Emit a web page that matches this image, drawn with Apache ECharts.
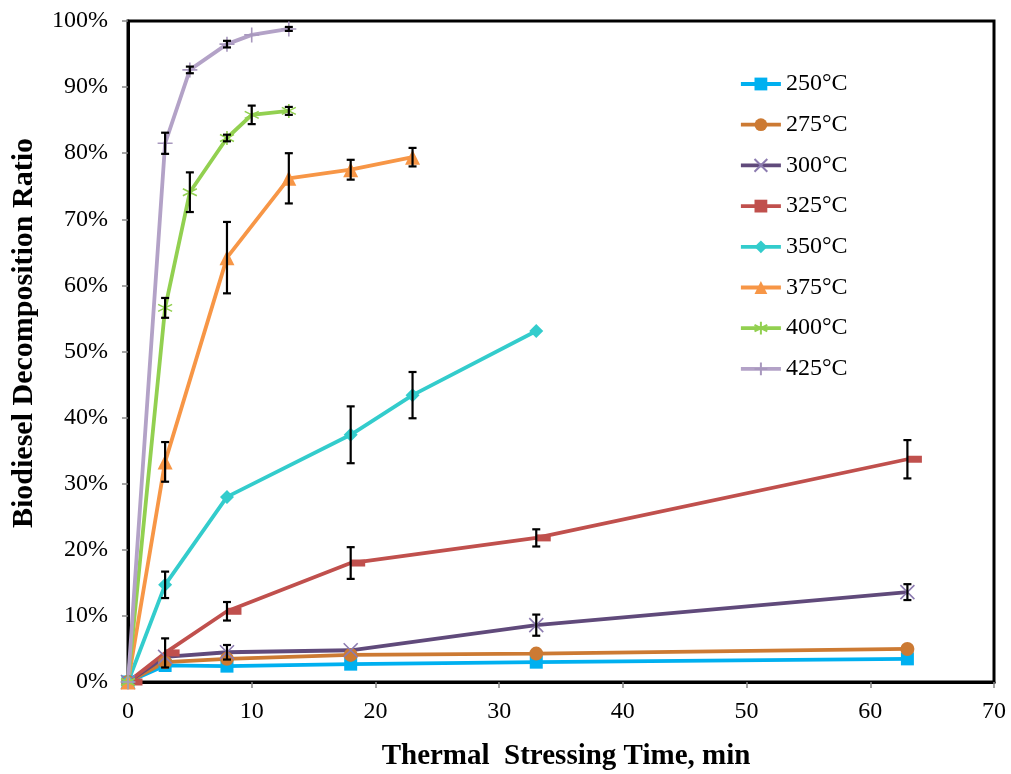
<!DOCTYPE html>
<html>
<head>
<meta charset="utf-8">
<script src="https://cdn.jsdelivr.net/npm/echarts@6/dist/echarts.min.js"></script>
<style>
  html, body { margin: 0; padding: 0; background: #fff; }
  #chart { width: 1011px; height: 774px; }
</style>
</head>
<body>
<div id="chart"></div>
<script>
// Stressing times (min) for each temperature group
const timesLow = [0, 3, 8, 18, 33, 63];     // 250–325 °C
const times350 = [0, 3, 8, 18, 23, 33];
const times375 = [0, 3, 8, 13, 18, 23];
const timesHigh = [0, 3, 5, 8, 10, 13];     // 400–425 °C

// Decomposition ratio (%) per temperature
const v250 = [0, 2.5, 2.4, 2.7, 3.0, 3.5];
const v275 = [0, 3.0, 3.5, 4.1, 4.3, 5.0];
const v300 = [0, 3.8, 4.5, 4.8, 8.6, 13.6];
const v325 = [0, 4.4, 10.7, 18.0, 21.8, 33.7];
const v350 = [0, 14.7, 28.0, 37.4, 43.4, 53.1];
const v375 = [0, 33.3, 64.2, 76.2, 77.5, 79.4];
const v400 = [0, 56.6, 74.1, 82.3, 85.8, 86.4];
const v425 = [0, 81.5, 92.6, 96.5, 97.9, 98.8];

// Standard deviations (± %) per point
const e250 = [0, 0, 0, 0, 0, 0];
const e275 = [0, 0, 0, 0, 0, 0];
const e300 = [0, 0, 1.1, 0, 1.6, 1.2];
const e325 = [0, 2.2, 1.4, 2.4, 1.3, 2.9];
const e350 = [0, 2.0, 0, 4.3, 3.5, 0];
const e375 = [0, 3.0, 5.4, 3.8, 1.5, 1.4];
const e400 = [0, 1.5, 3.0, 0.5, 1.4, 0.6];
const e425 = [0, 1.6, 0.5, 0.5, 0, 0.3];

const seriesNames = ['250°C', '275°C', '300°C', '325°C', '350°C', '375°C', '400°C', '425°C'];
const xTicks = [0, 10, 20, 30, 40, 50, 60, 70];

const FONT = '"Liberation Serif", "Times New Roman", serif';

const groups = [
  { name: seriesNames[0], t: timesLow, v: v250, e: e250, color: '#00B0F0',
    symbol: 'rect', size: 13 },
  { name: seriesNames[1], t: timesLow, v: v275, e: e275, color: '#CC7A33',
    symbol: 'circle', size: 14 },
  { name: seriesNames[2], t: timesLow, v: v300, e: e300, color: '#604A7B',
    symbol: 'path://M0,0L10,10M10,0L0,10', size: 14, stroke: '#8C7BB0' },
  { name: seriesNames[3], t: timesLow, v: v325, e: e325, color: '#C0504D',
    symbol: 'rect', size: [15, 7], offset: [7, 0] },
  { name: seriesNames[4], t: times350, v: v350, e: e350, color: '#33CCCC',
    symbol: 'diamond', size: 14 },
  { name: seriesNames[5], t: times375, v: v375, e: e375, color: '#F79646',
    symbol: 'triangle', size: 15 },
  { name: seriesNames[6], t: timesHigh, v: v400, e: e400, color: '#92D050',
    symbol: 'path://M5,0L5,10M0,2.5L10,7.5M0,7.5L10,2.5', size: 14, stroke: '#92D050' },
  { name: seriesNames[7], t: timesHigh, v: v425, e: e425, color: '#B3A2C7',
    symbol: 'path://M5,0L5,10M0,5L10,5', size: 15, stroke: '#A898BE' }
];

const lineSeries = groups.map(g => ({
  name: g.name,
  type: 'line',
  data: g.t.map((x, i) => [x, g.v[i]]),
  symbol: g.symbol,
  symbolSize: g.size,
  symbolOffset: g.offset || [0, 0],
  showAllSymbol: true,
  lineStyle: { color: g.color, width: 3.8 },
  itemStyle: g.stroke
    ? { color: 'rgba(0,0,0,0)', borderColor: g.stroke, borderWidth: 1.6 }
    : { color: g.color, borderWidth: 0 },
  emphasis: { disabled: true },
  z: 2
}));

// Vertical I-beam error bars drawn from each series' values
const errorSeries = groups.map(g => ({
  type: 'custom',
  name: g.name + ' error',
  data: g.t.map((x, i) => [x, g.v[i] - g.e[i], g.v[i] + g.e[i], g.e[i]])
           .filter(d => d[3] > 0),
  encode: { x: 0, y: [1, 2] },
  renderItem: function (params, api) {
    const x = api.value(0);
    const lo = api.coord([x, api.value(1)]);
    const hi = api.coord([x, api.value(2)]);
    const cap = 4;
    const style = { stroke: '#000', lineWidth: 2.2 };
    return {
      type: 'group',
      children: [
        { type: 'line', shape: { x1: lo[0], y1: lo[1], x2: hi[0], y2: hi[1] }, style },
        { type: 'line', shape: { x1: lo[0] - cap, y1: lo[1], x2: lo[0] + cap, y2: lo[1] }, style },
        { type: 'line', shape: { x1: hi[0] - cap, y1: hi[1], x2: hi[0] + cap, y2: hi[1] }, style }
      ]
    };
  },
  silent: true,
  z: 3
}));

const chart = echarts.init(document.getElementById('chart'), null, { renderer: 'canvas' });

chart.setOption({
  animation: false,
  backgroundColor: '#fff',
  textStyle: { fontFamily: FONT },
  grid: {
    left: 128, right: 17, top: 21, bottom: 92,
    show: true, borderColor: '#000', borderWidth: 3, backgroundColor: '#fff'
  },
  legend: {
    orient: 'vertical',
    left: 734,
    top: 67,
    itemWidth: 40,
    itemHeight: 16,
    itemGap: 16.7,
    data: seriesNames,
    lineStyle: { width: 3.8 },
    textStyle: { fontFamily: FONT, fontSize: 24, color: '#000' },
    selectedMode: false
  },
  xAxis: {
    type: 'value',
    min: xTicks[0],
    max: xTicks[xTicks.length - 1],
    interval: 10,
    axisLine: { show: true, lineStyle: { color: '#000', width: 3 } },
    axisTick: { show: true, inside: false, length: 6, lineStyle: { color: '#888', width: 1.5 } },
    axisLabel: { margin: 18, fontFamily: FONT, fontSize: 24, color: '#000' },
    splitLine: { show: false }
  },
  yAxis: {
    type: 'value',
    min: 0,
    max: 100,
    interval: 10,
    axisLine: { show: true, lineStyle: { color: '#000', width: 3 } },
    axisTick: { show: true, inside: false, length: 6, lineStyle: { color: '#888', width: 1.5 } },
    axisLabel: { margin: 20, fontFamily: FONT, fontSize: 24, color: '#000', formatter: '{value}%' },
    splitLine: { show: false }
  },
  graphic: [
    {
      type: 'text',
      x: 566, y: 757,
      style: {
        text: 'Thermal  Stressing Time, min',
        fontFamily: FONT, fontSize: 29, fontWeight: 'bold', fill: '#000',
        align: 'center', verticalAlign: 'middle'
      }
    },
    {
      type: 'text',
      x: 24, y: 333,
      rotation: Math.PI / 2,
      style: {
        text: 'Biodiesel Decomposition Ratio',
        fontFamily: FONT, fontSize: 30, fontWeight: 'bold', fill: '#000',
        align: 'center', verticalAlign: 'middle'
      }
    }
  ],
  series: lineSeries.concat(errorSeries)
});
</script>
</body>
</html>
